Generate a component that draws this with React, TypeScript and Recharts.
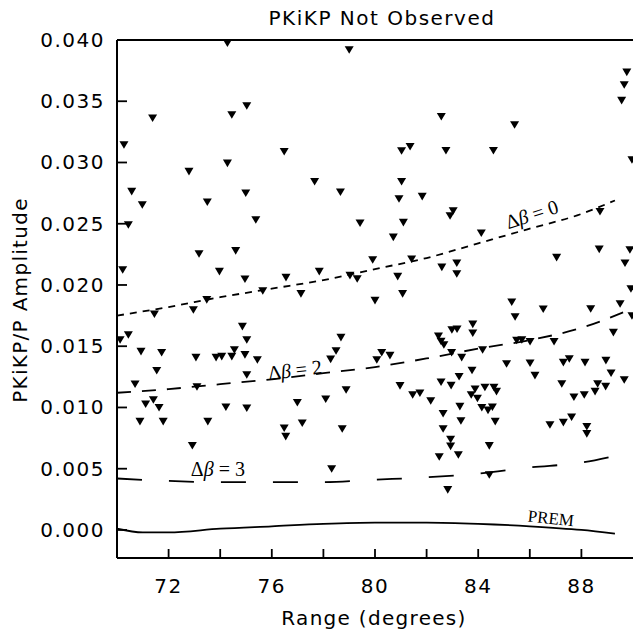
import React from "react";
import {
  ComposedChart,
  Line,
  ReferenceDot,
  ReferenceLine,
  Scatter,
  XAxis,
  YAxis,
} from "recharts";

// station observations (range in degrees, PKiKP/P amplitude upper bound)
const stations: [number, number][] = [
  [70.12, 0.01551], [70.22, 0.02122], [70.27, 0.03143], [70.44, 0.0249], [70.44, 0.01592],
  [70.57, 0.02762], [70.7, 0.01189], [70.89, 0.00884], [70.93, 0.01456], [70.98, 0.02653],
  [71.11, 0.01026], [71.38, 0.03361], [71.41, 0.01061], [71.45, 0.01761], [71.54, 0.013],
  [71.63, 0.00998], [71.73, 0.01447], [71.79, 0.00884], [72.79, 0.02925], [72.92, 0.00688],
  [72.96, 0.01796], [73.06, 0.01407], [73.1, 0.01167], [73.18, 0.02253], [73.48, 0.01878],
  [73.5, 0.02675], [73.52, 0.00884], [73.84, 0.01407], [73.97, 0.02109], [74.06, 0.01415],
  [74.22, 0.01002], [74.28, 0.03973], [74.28, 0.02993], [74.45, 0.03388], [74.45, 0.01415],
  [74.55, 0.01469], [74.6, 0.02278], [74.86, 0.0166], [74.96, 0.02047], [74.96, 0.01429],
  [74.99, 0.02749], [75.03, 0.03461], [75.03, 0.01551], [75.03, 0.01265], [75.03, 0.00993],
  [75.38, 0.02531], [75.44, 0.01388], [75.65, 0.01951], [76.48, 0.03088], [76.48, 0.0083],
  [76.54, 0.00762], [76.55, 0.0206], [76.99, 0.01039], [77.13, 0.01927], [77.18, 0.00871],
  [77.66, 0.02843], [77.84, 0.02109], [78.09, 0.01067], [78.28, 0.01393], [78.32, 0.00498],
  [78.49, 0.01461], [78.66, 0.02757], [78.68, 0.0157], [78.73, 0.00824], [78.88, 0.01143],
  [79.0, 0.03918], [79.03, 0.02076], [79.31, 0.02049], [79.42, 0.02504], [79.91, 0.02204],
  [80.0, 0.01872], [80.07, 0.01388], [80.26, 0.01447], [80.58, 0.01423], [80.71, 0.02389],
  [80.88, 0.02068], [80.93, 0.02702], [80.97, 0.01176], [81.03, 0.03094], [81.03, 0.02843],
  [81.07, 0.01927], [81.1, 0.02509], [81.36, 0.03129], [81.42, 0.0221], [81.46, 0.01102],
  [81.74, 0.01116], [81.83, 0.02721], [82.16, 0.01053], [82.49, 0.00596], [82.46, 0.0158],
  [82.56, 0.01539], [82.67, 0.0151], [82.56, 0.01206], [82.57, 0.03374], [82.59, 0.02144],
  [82.64, 0.00949], [82.64, 0.00824], [82.75, 0.03096], [82.82, 0.00327], [82.91, 0.02563],
  [83.03, 0.02604], [82.93, 0.00739], [82.93, 0.00682], [82.95, 0.01178], [82.98, 0.01633],
  [83.18, 0.01638], [82.97, 0.01447], [83.17, 0.02177], [83.17, 0.0209], [83.23, 0.00612],
  [83.29, 0.01007], [83.36, 0.01407], [83.26, 0.01251], [83.33, 0.0089], [83.73, 0.01102],
  [83.76, 0.01302], [83.79, 0.01678], [83.79, 0.01606], [83.88, 0.01149], [83.97, 0.01073],
  [84.12, 0.02422], [84.14, 0.00998], [84.17, 0.01469], [84.26, 0.01163], [84.38, 0.00976],
  [84.43, 0.00686], [84.43, 0.00449], [84.55, 0.01002], [84.59, 0.03096], [84.61, 0.01163],
  [84.71, 0.01129], [84.66, 0.00884], [85.1, 0.01355], [85.3, 0.01859], [85.41, 0.03306],
  [85.43, 0.01739], [85.49, 0.01547], [85.69, 0.01551], [86.01, 0.01537], [86.01, 0.01361],
  [86.2, 0.0126], [86.52, 0.01802], [86.78, 0.00857], [86.94, 0.01537], [87.04, 0.02223],
  [87.24, 0.01192], [87.3, 0.01366], [87.3, 0.00876], [87.53, 0.01396], [87.62, 0.0092],
  [87.71, 0.01083], [88.11, 0.01102], [88.14, 0.01366], [88.21, 0.00843], [88.21, 0.00784],
  [88.36, 0.01804], [88.53, 0.01129], [88.63, 0.01192], [88.69, 0.02291], [88.72, 0.02598],
  [88.94, 0.0117], [88.95, 0.01382], [89.15, 0.01279], [89.24, 0.01611], [89.5, 0.01845],
  [89.56, 0.03505], [89.66, 0.03633], [89.66, 0.01224], [89.69, 0.02177], [89.76, 0.03736],
  [89.88, 0.02286], [89.96, 0.0302], [89.92, 0.01967], [89.96, 0.01747],
];

// predicted amplitude curves
const beta0: [number, number][] = [
  [70, 0.0175], [72, 0.0182], [74, 0.019], [76, 0.0197], [78, 0.0204], [80, 0.0213],
  [82, 0.0222], [84, 0.0234], [86, 0.0246], [88, 0.0258], [89.3, 0.0269],
];
const beta2: [number, number][] = [
  [70, 0.0112], [72, 0.0115], [74, 0.0119], [76, 0.0123], [78, 0.0128], [80, 0.0133],
  [82, 0.014], [84, 0.0148], [86, 0.0155], [88, 0.0165], [89.9, 0.018],
];
const beta3: [number, number][] = [
  [70, 0.0042], [72, 0.004], [74, 0.0039], [76, 0.0039], [78, 0.0039], [80, 0.0041],
  [82, 0.0043], [84, 0.0046], [86, 0.0051], [88, 0.0055], [89.2, 0.006],
];
const prem: [number, number][] = [
  [70, 0.0001], [71, -0.0002], [72, -0.0002], [74, 0.0001], [76, 0.0003], [78, 0.0005],
  [80, 0.0006], [82, 0.0006], [84, 0.0005], [86, 0.0003], [88, 0.0], [89.3, -0.0003],
];

const xTicks = [72, 74, 76, 78, 80, 82, 84, 86, 88];
const xLabeled = [72, 76, 80, 84, 88];
const yTicks = [0, 0.005, 0.01, 0.015, 0.02, 0.025, 0.03, 0.035, 0.04];

const SANS = "'DejaVu Sans', sans-serif";
const SERIF = "'Liberation Serif', 'DejaVu Serif', serif";

const toPts = (rows: [number, number][]) => rows.map(([x, y]) => ({ x, y }));

const DownTriangle = (props: any) => {
  const { cx, cy } = props;
  if (cx == null || cy == null) return null;
  return (
    <polygon
      points={`${cx - 4.5},${cy - 3.8} ${cx + 4.5},${cy - 3.8} ${cx},${cy + 3.8}`}
      fill="#000"
    />
  );
};

const XTick = (props: any) => {
  const { x, y, payload } = props;
  const v = payload.value;
  return (
    <g>
      <line x1={x} x2={x} y1={y} y2={y - 9} stroke="#000" strokeWidth={1.8} />
      {xLabeled.includes(v) ? (
        <text x={x} y={y + 35} textAnchor="middle" fontFamily={SANS} fontSize={20} letterSpacing={1.5} fill="#000">
          {v}
        </text>
      ) : null}
    </g>
  );
};

const YTick = (props: any) => {
  const { x, y, payload } = props;
  return (
    <g>
      <line x1={x} x2={x + 10} y1={y} y2={y} stroke="#000" strokeWidth={1.8} />
      <text x={x - 12} y={y + 7} textAnchor="end" fontFamily={SANS} fontSize={20} letterSpacing={1.5} fill="#000">
        {Number(payload.value).toFixed(3)}
      </text>
    </g>
  );
};

const curveLabel = (text: string, base: string, rotate: number, size = 20) => (p: any) => {
  const { cx, cy } = p;
  return (
    <text
      x={cx}
      y={cy}
      dy={6}
      textAnchor="middle"
      fontFamily={SERIF}
      fontSize={size}
      fill="#000"
      transform={`rotate(${rotate} ${cx} ${cy})`}
    >
      {text}
      {base ? <tspan fontStyle="italic">{base}</tspan> : null}
    </text>
  );
};

const betaLabel = (n: string, rotate: number) => (p: any) => {
  const { cx, cy } = p;
  return (
    <text
      x={cx}
      y={cy}
      dy={6}
      textAnchor="middle"
      fontFamily={SERIF}
      fontSize={20}
      fill="#000"
      transform={`rotate(${rotate} ${cx} ${cy})`}
    >
      Δ<tspan fontStyle="italic">β</tspan> = {n}
    </text>
  );
};

export default function App() {
  const lineProps = {
    type: "monotone" as const,
    dataKey: "y",
    stroke: "#000",
    strokeWidth: 1.8,
    dot: false,
    activeDot: false,
    isAnimationActive: false,
    legendType: "none" as const,
  };

  return (
    <div style={{ position: "absolute", left: 0, top: 0, width: 636, height: 633, background: "#fff" }}>
      <ComposedChart width={636} height={633} margin={{ top: 40, right: 3, bottom: 0, left: 0 }}>
        <XAxis
          type="number"
          dataKey="x"
          domain={[70, 90]}
          ticks={xTicks}
          interval={0}
          allowDataOverflow
          height={75}
          tickSize={0}
          tickMargin={0}
          tickLine={false}
          axisLine={{ stroke: "#000", strokeWidth: 2 }}
          tick={<XTick />}
        />
        <YAxis
          type="number"
          dataKey="y"
          domain={[-0.00229, 0.04]}
          ticks={yTicks}
          interval={0}
          allowDataOverflow
          width={117}
          tickSize={0}
          tickMargin={0}
          tickLine={false}
          axisLine={{ stroke: "#000", strokeWidth: 2 }}
          tick={<YTick />}
        />
        <ReferenceLine y={0.04} stroke="#000" strokeWidth={2} />
        <Line {...lineProps} data={toPts(beta0)} strokeDasharray="7 6" />
        <Line {...lineProps} data={toPts(beta2)} strokeDasharray="14 11" />
        <Line {...lineProps} data={toPts(beta3)} strokeDasharray="25 27" />
        <Line {...lineProps} data={toPts(prem)} />
        <Scatter data={toPts(stations)} fill="#000" shape={DownTriangle} isAnimationActive={false} />
        <ReferenceDot x={86.09} y={0.0257} r={0} ifOverflow="visible" shape={betaLabel("0", -18)} />
        <ReferenceDot x={76.9} y={0.013} r={0} ifOverflow="visible" shape={betaLabel("2", -7)} />
        <ReferenceDot x={73.91} y={0.0049} r={0} ifOverflow="visible" shape={betaLabel("3", 0)} />
        <ReferenceDot x={86.82} y={0.00098} r={0} ifOverflow="visible" shape={curveLabel("PREM", "", 6, 17)} />
      </ComposedChart>
      <svg
        width={636}
        height={633}
        style={{ position: "absolute", left: 0, top: 0, pointerEvents: "none" }}
      >
        <text x={382} y={25} textAnchor="middle" fontFamily={SANS} fontSize={20} letterSpacing={1.5} fill="#000">
          PKiKP Not Observed
        </text>
        <text x={374} y={625} textAnchor="middle" fontFamily={SANS} fontSize={20} letterSpacing={1.3} fill="#000">
          Range (degrees)
        </text>
        <text
          x={0}
          y={0}
          textAnchor="middle"
          fontFamily={SANS}
          fontSize={20}
          letterSpacing={1.3}
          fill="#000"
          transform="translate(27 300) rotate(-90)"
        >
          PKiKP/P Amplitude
        </text>
      </svg>
    </div>
  );
}
